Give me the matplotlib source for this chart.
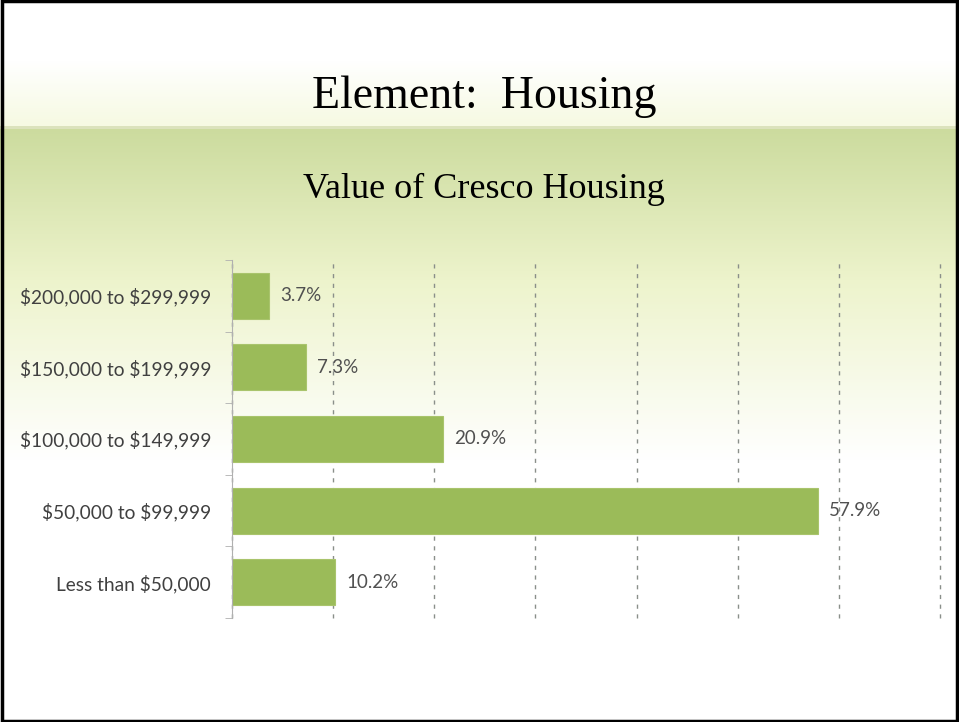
import numpy as np
import matplotlib.pyplot as plt

categories = ["Less than \\$50,000", "\\$50,000 to \\$99,999", "\\$100,000 to \\$149,999",
              "\\$150,000 to \\$199,999", "\\$200,000 to \\$299,999"]
values = [10.2, 57.9, 20.9, 7.3, 3.7]

fig = plt.figure(figsize=(9.59, 7.22), dpi=100)

# slide background: pale band behind the title, green band fading down
bg = fig.add_axes([0, 0, 1, 1], zorder=0)
bg.set_axis_off()
H = 722
col = np.ones((H, 3))
top = np.array([1.0, 1.0, 1.0])
pale = np.array([0.965, 0.978, 0.885])
green = np.array([0.80, 0.86, 0.62])
mid = np.array([0.93, 0.955, 0.80])
for y in range(H):
    if y < 60:
        c = top
    elif y < 126:
        t = (y - 60) / 66
        c = top + (pale - top) * t
    elif y < 129:
        c = np.array([0.86, 0.89, 0.74])
    elif y < 280:
        t = (y - 129) / 151
        c = green + (mid - green) * t
    elif y < 460:
        t = (y - 280) / 180
        c = mid + (top - mid) * t
    else:
        c = top
    col[y] = c
bg.imshow(col[:, None, :], aspect="auto", extent=[0, 1, 0, 1])
bg.set_xlim(0, 1)
bg.set_ylim(0, 1)
border = plt.Rectangle((0.002, 0.002), 0.996, 0.996, transform=fig.transFigure,
                       fill=False, ec="black", lw=2.5, zorder=5)
fig.patches.append(border)

fig.text(0.505, 0.866, "Element:  Housing", ha="center", va="center",
         fontsize=33, family="Liberation Serif", color="black")
fig.text(0.505, 0.738, "Value of Cresco Housing", ha="center", va="center",
         fontsize=26, family="Liberation Serif", color="black")

ax = fig.add_axes([232 / 959, 1 - 618 / 722, (940 - 232) / 959, (618 - 260) / 722], zorder=1)
ax.patch.set_alpha(0)

y = np.arange(len(categories))
ax.barh(y, values, height=0.64, color="#9bbb59", edgecolor="#a9c46c", lw=0.8, zorder=2)
ax.set_xlim(0, 70)
ax.set_ylim(-0.5, len(categories) - 0.5)
ax.set_xticks(np.arange(0, 71, 10))
ax.set_xticklabels([])
ax.tick_params(axis="x", length=0)
ax.grid(axis="x", ls=(0, (3, 4)), lw=1, color="#8a8f8a", zorder=1)
for gl in ax.get_xgridlines():
    gl.set_clip_on(False)

ax.set_yticks(y)
ax.set_yticklabels(categories, fontsize=13.8, color="#404040", family="Lato")
ax.set_yticks(np.arange(-0.5, len(categories), 1), minor=True)
ax.tick_params(axis="y", which="major", length=0, pad=15)
ax.tick_params(axis="y", which="minor", length=5, color="#b0b0b0")

for sp in ["top", "right", "bottom"]:
    ax.spines[sp].set_visible(False)
ax.spines["left"].set_color("#b0b0b0")

for yy, v in zip(y, values):
    ax.text(v + 1.1, yy, "%.1f%%" % v, va="center", ha="left",
            fontsize=13.5, color="#505050", family="Lato")

plt.savefig("out.png", dpi=100)
